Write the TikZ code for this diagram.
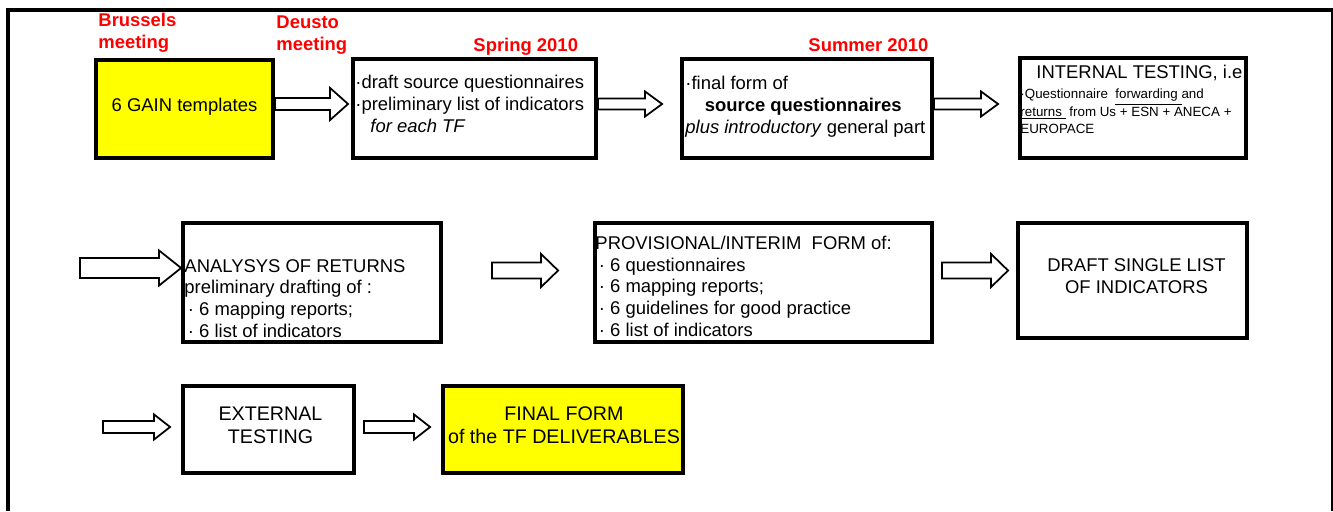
\documentclass[tikz,border=0pt]{standalone}
\usepackage{fontspec}
\setmainfont{Liberation Sans}
\usetikzlibrary{calc}

\definecolor{gainyellow}{RGB}{255,255,0}
\definecolor{meetred}{RGB}{255,0,0}

\tikzset{
  box/.style={draw, line width=2.2pt, inner sep=0pt},
  hollow/.style={draw, fill=white, line width=1pt},
  txt/.style={inner sep=0pt, align=left, font=\fontsize{10.5}{12.3}\selectfont},
  bigtxt/.style={inner sep=0pt, align=center, font=\fontsize{11.2}{12.6}\selectfont},
  smalltxt/.style={inner sep=0pt, align=left, font=\fontsize{7.6}{9.7}\selectfont},
  redlabel/.style={inner sep=0pt, align=left, text=meetred, font=\fontsize{10.5}{12.5}\selectfont\bfseries}
}

% block arrow: shaft half, head half, head length (px), from, to
\newcommand{\fatarrow}[5]{%
  \draw[hollow] let \p1=(#4), \p2=(#5) in
    (\x1,{\y1+#1*0.02cm}) -- ({\x2-#3*0.02cm},{\y1+#1*0.02cm})
    -- ({\x2-#3*0.02cm},{\y1+#2*0.02cm}) -- (\x2,\y1)
    -- ({\x2-#3*0.02cm},{\y1-#2*0.02cm}) -- ({\x2-#3*0.02cm},{\y1-#1*0.02cm})
    -- (\x1,{\y1-#1*0.02cm}) -- cycle;}

\begin{document}
\begin{tikzpicture}[x=0.02cm,y=-0.02cm]
\useasboundingbox (0,0) rectangle (1333,511);

% Frame
\draw[line width=2.3pt] (1333,10) -- (8,10) -- (8,511);
\draw[line width=0.6pt] (1332,12) -- (1332,511);

% Row 1
\node[box, fill=gainyellow, minimum width=3.54cm, minimum height=1.96cm] (gain) at (184.5,109) {};
\node[box, minimum width=4.86cm, minimum height=1.98cm] (draft) at (474.5,108.5) {};
\node[box, minimum width=5.0cm, minimum height=1.98cm] (final) at (807,108.5) {};
\node[box, minimum width=4.52cm, minimum height=2.0cm] (internal) at (1133,108) {};

% (base = baseline of the last line)
\node[txt, anchor=base] (gaintxt) at ([shift={(0,53)}]gain.north) {6 GAIN templates};
\node[txt, anchor=base west] (drafttxt) at ([shift={(4,75)}]draft.north west)
  {·draft source questionnaires\\·preliminary list of indicators\\\hspace{8.5pt}\textit{for each TF}};
\node[txt, anchor=base west] (finaltxt) at ([shift={(5,76)}]final.north west)
  {·final form of\\\hspace{11pt}\textbf{source questionnaires}\\\textit{plus introductory} general part};
\node[txt, anchor=base west] (inttitle) at ([shift={(18,22)}]internal.north west) {INTERNAL TESTING, i.e.};
\node[smalltxt, anchor=base west] (intbody) at ([shift={(2,77)}]internal.north west)
  {·Questionnaire\ \ \underline{forwarding\ }and\\\underline{returns\ } from Us + ESN + ANECA +\\EUROPACE};

% Red labels
\node[redlabel, anchor=base west] (brussels) at ([shift={(4,-10)}]gain.north west) {Brussels\\meeting};
\node[redlabel, anchor=base west] (deusto) at ([shift={(-75,-7)}]draft.north west) {Deusto\\meeting};
\node[redlabel, anchor=base west] (spring) at ([shift={(122,-6)}]draft.north west) {Spring 2010};
\node[redlabel, anchor=base west] (summer) at ([shift={(128,-6)}]final.north west) {Summer 2010};

% Row 2
\node[box, minimum width=5.16cm, minimum height=2.38cm] (analysis) at (312,282.5) {};
\node[box, minimum width=6.74cm, minimum height=2.38cm] (prov) at (763.5,282.5) {};
\node[box, minimum width=4.58cm, minimum height=2.30cm] (dsl) at (1132.5,280.5) {};

\node[txt, anchor=base west] (analysistxt) at ([shift={(3,116)}]analysis.north west)
  {ANALYSYS OF RETURNS\\preliminary drafting of :\\\hspace{2pt}· 6 mapping reports;\\\hspace{2pt}· 6 list of indicators};
\node[txt, anchor=base west] (provtxt) at ([shift={(2,115)}]prov.north west)
  {PROVISIONAL/INTERIM\ \ FORM of:\\\hspace{2pt}· 6 questionnaires\\\hspace{2pt}· 6 mapping reports;\\\hspace{2pt}· 6 guidelines for good practice\\\hspace{2pt}· 6 list of indicators};
\node[txt, align=center, anchor=base] (dsltxt) at ([shift={(4,72)}]dsl.north) {DRAFT SINGLE LIST\\OF INDICATORS};

% Row 3
\node[box, minimum width=3.42cm, minimum height=1.74cm] (ext) at (268.5,429.5) {};
\node[box, fill=gainyellow, minimum width=4.8cm, minimum height=1.74cm] (deliv) at (563,429.5) {};

\node[bigtxt, anchor=base] (exttxt) at ([shift={(2,59)}]ext.north) {EXTERNAL\\TESTING};
\node[bigtxt, anchor=base] (delivtxt) at ([shift={(1,59)}]deliv.north) {FINAL FORM\\of the TF DELIVERABLES};

% Block arrows
\coordinate (in2) at (80,268);
\coordinate (in3) at (103,427);
\fatarrow{6}{16}{18}{$(gain.east)+(0,-5)$}{$(draft.west)+(-3,0)$}
\fatarrow{5.5}{12.5}{17}{$(draft.east)+(0,-4.5)$}{$(final.west)+(-18,0)$}
\fatarrow{5.5}{12.5}{17}{$(final.east)+(0,-4.5)$}{$(internal.west)+(-20,0)$}
\fatarrow{10}{17.5}{22}{in2}{analysis.west}
\fatarrow{8}{16.5}{17}{$(analysis.east)+(49,-12)$}{$(prov.west)+(-35,0)$}
\fatarrow{8}{16.5}{17}{$(prov.east)+(8,-12)$}{$(dsl.west)+(-8,0)$}
\fatarrow{6}{12.5}{16}{in3}{$(ext.west)+(-11,0)$}
\fatarrow{6}{12.5}{16}{$(ext.east)+(8,-2.5)$}{$(deliv.west)+(-11,0)$}

\end{tikzpicture}
\end{document}
